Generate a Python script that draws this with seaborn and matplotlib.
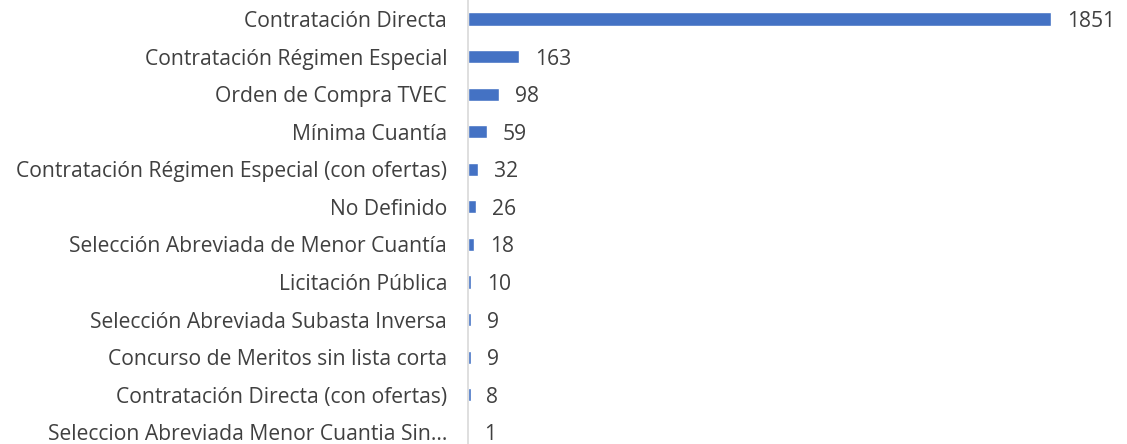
import matplotlib
matplotlib.use("Agg")
import matplotlib.pyplot as plt
import seaborn as sns
import pandas as pd

categories = [
    "Contratación Directa",
    "Contratación Régimen Especial",
    "Orden de Compra TVEC",
    "Mínima Cuantía",
    "Contratación Régimen Especial (con ofertas)",
    "No Definido",
    "Selección Abreviada de Menor Cuantía",
    "Licitación Pública",
    "Selección Abreviada Subasta Inversa",
    "Concurso de Meritos sin lista corta",
    "Contratación Directa (con ofertas)",
    "Seleccion Abreviada Menor Cuantia Sin...",
]
values = [1851, 163, 98, 59, 32, 26, 18, 10, 9, 9, 8, 1]

df = pd.DataFrame({"cat": categories, "val": values})

sns.set_theme(style="white")
plt.rcParams["font.family"] = ["Open Sans", "DejaVu Sans"]

W, H = 1127, 444
fig = plt.figure(figsize=(W / 100, H / 100), dpi=100)
x0, x1 = 468, 1127
ytop, ybot = 0.2, 451
ax = fig.add_axes([x0 / W, (H - ybot) / H, (x1 - x0) / W, (ybot - ytop) / H])

sns.barplot(data=df, x="val", y="cat", color="#4472C4", width=0.35,
            saturation=1, ax=ax, orient="h")

px_per_unit = (1051 - 468) / 1851
ax.set_xlim(0, (x1 - x0) / px_per_unit)
ax.set_ylim(len(categories) - 0.5, -0.5)

for i, v in enumerate(values):
    ax.annotate(str(v), xy=(v, i), xytext=(11.5, 0), textcoords="offset points",
                va="center_baseline", ha="left", fontsize=15.2, color="#404040")

ax.set_xlabel("")
ax.set_ylabel("")
ax.set_xticks([])
ax.tick_params(axis="y", length=0, pad=15, labelsize=15.2, labelcolor="#404040")
for s in ["top", "right", "bottom"]:
    ax.spines[s].set_visible(False)
ax.spines["left"].set_color("#d9d9d9")
ax.spines["left"].set_linewidth(1.2)

fig.savefig("out.png", dpi=100)
